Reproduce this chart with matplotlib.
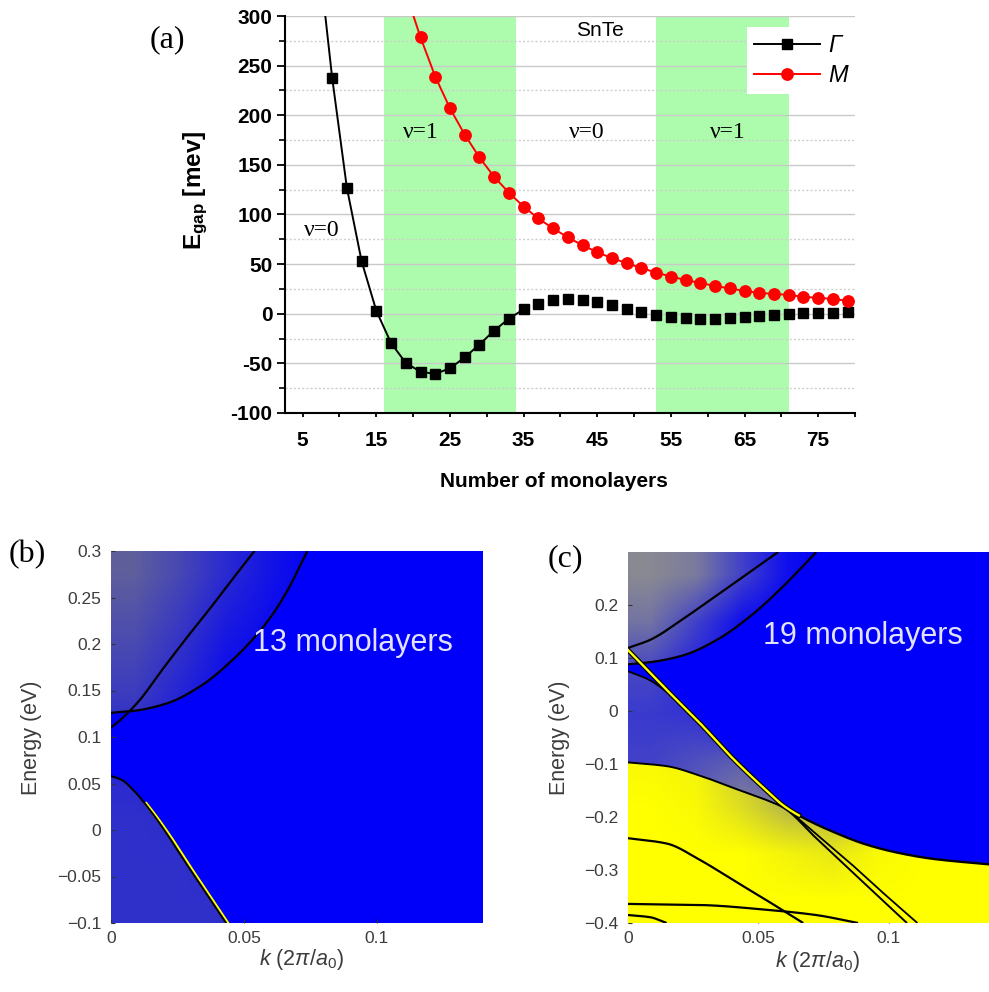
import numpy as np
import matplotlib
matplotlib.use('Agg')
import matplotlib.pyplot as plt
from matplotlib.patches import Polygon
from matplotlib.lines import Line2D
from matplotlib.ticker import FixedLocator

plt.rcParams['font.family'] = ['Liberation Sans', 'DejaVu Sans']
plt.rcParams['mathtext.fontset'] = 'custom'
plt.rcParams['mathtext.rm'] = 'Liberation Sans'
plt.rcParams['mathtext.it'] = 'Liberation Sans:italic'
plt.rcParams['mathtext.bf'] = 'Liberation Sans:bold'

# ---------------- panel (a) data ----------------
layers_gamma = list(range(9, 80, 2))
gap_gamma = [238, 127, 53, 3, -29.5, -49.5, -58.5, -60.5, -55, -44,
             -31, -17, -5, 4.5, 10, 14, 15, 14, 12, 9,
             5, 1.5, -1, -3, -4.5, -5.2, -5.2, -4.7, -3.7, -2.7,
             -1.3, -0.3, 0.3, 0.7, 0.7, 1.3]
layers_m = list(range(21, 80, 2))
gap_m = [278.5, 239, 207, 180.5, 157.5, 138, 122, 108, 96, 86,
         77, 69, 62, 56, 51, 46, 41.5, 37.5, 34, 31,
         28, 25.5, 23, 21, 20, 19, 17, 16, 15, 13]
# connecting-line extensions (leave the frame at the top)
gamma_line_x = [8] + layers_gamma[:14]
gamma_line_y = [305] + gap_gamma[:14]
m_line_x = [20] + layers_m
m_line_y = [301] + gap_m
nu1_bands = [(16, 34), (53, 71)]
a_yticks = [-100, -50, 0, 50, 100, 150, 200, 250, 300]
a_ytick_labels = ['-100', '-50', '0', '50', '100', '150', '200', '250', '300']
a_xticks = [5, 15, 25, 35, 45, 55, 65, 75]
a_xtick_labels = ['5', '15', '25', '35', '45', '55', '65', '75']

# ---------------- panel (b) data (13 monolayers) ----------------
b_cb1_k = [0, 0.0034, 0.0109, 0.0184, 0.0283, 0.0383, 0.0458, 0.054]
b_cb1_E = [0.110, 0.118, 0.140, 0.169, 0.206, 0.242, 0.270, 0.300]
b_cb2_k = [0, 0.0084, 0.0209, 0.0333, 0.0458, 0.0583, 0.0658, 0.0739]
b_cb2_E = [0.126, 0.128, 0.136, 0.154, 0.183, 0.222, 0.2545, 0.300]
b_vb_k = [0, 0.004, 0.0084, 0.0146, 0.0209, 0.0283, 0.0358, 0.0433]
b_vb_E = [0.058, 0.054, 0.043, 0.0215, -0.0036, -0.036, -0.068, -0.1]
b_yticks = [-0.1, -0.05, 0, 0.05, 0.1, 0.15, 0.2, 0.25, 0.3]
b_ytick_labels = ['\u22120.1', '\u22120.05', '0', '0.05', '0.1', '0.15', '0.2', '0.25', '0.3']
bc_xticks = [0, 0.05, 0.1]
bc_xtick_labels = ['0', '0.05', '0.1']
# grey tint of the spectral map (rows: E from top to bottom, cols: k 0..0.14)
b_shade = [[0.80, 0.60, 0.35, 0.15, 0.0, 0.0, 0.0, 0.0],
           [0.70, 0.50, 0.25, 0.10, 0.0, 0.0, 0.0, 0.0],
           [0.60, 0.40, 0.15, 0.05, 0.0, 0.0, 0.0, 0.0],
           [0.50, 0.30, 0.10, 0.00, 0.0, 0.0, 0.0, 0.0],
           [0.35, 0.20, 0.05, 0.00, 0.0, 0.0, 0.0, 0.0],
           [0.35, 0.30, 0.10, 0.00, 0.0, 0.0, 0.0, 0.0],
           [0.40, 0.38, 0.25, 0.00, 0.0, 0.0, 0.0, 0.0],
           [0.40, 0.40, 0.35, 0.00, 0.0, 0.0, 0.0, 0.0],
           [0.40, 0.40, 0.40, 0.00, 0.0, 0.0, 0.0, 0.0]]

# ---------------- panel (c) data (19 monolayers) ----------------
c_cbA_k = [0, 0.0084, 0.0212, 0.034, 0.0467, 0.0576]
c_cbA_E = [0.119, 0.134, 0.174, 0.218, 0.262, 0.300]
c_cbB_k = [0, 0.0084, 0.0212, 0.034, 0.0467, 0.0595, 0.0722]
c_cbB_E = [0.088, 0.092, 0.105, 0.134, 0.178, 0.235, 0.300]
# surface state (yellow) -> becomes the upper edge of the yellow region
c_ss_k = [0, 0.0148, 0.0276, 0.0403, 0.0531, 0.0595, 0.0659, 0.0787, 0.0914, 0.104, 0.117, 0.14]
c_ss_E = [0.115, 0.040, -0.023, -0.090, -0.150, -0.178, -0.198, -0.228, -0.252, -0.268, -0.279, -0.290]
c_merge_k = 0.0595
# top valence band (black), continues as a straight line
c_vb1_k = [0, 0.0148, 0.0276, 0.0403, 0.0531, 0.0595, 0.0722, 0.085, 0.0978, 0.107]
c_vb1_E = [-0.097, -0.104, -0.122, -0.145, -0.168, -0.182, -0.240, -0.299, -0.358, -0.400]
c_d1_k = [0, 0.0084, 0.0212, 0.034, 0.0467, 0.0595, 0.0722, 0.085, 0.0978, 0.111]
c_d1_E = [0.075, 0.058, 0.008, -0.055, -0.118, -0.178, -0.232, -0.286, -0.343, -0.400]
c_v2_k = [0, 0.0148, 0.0276, 0.0403, 0.0531, 0.0672]
c_v2_E = [-0.240, -0.250, -0.281, -0.319, -0.357, -0.400]
c_v3_k = [0, 0.0276, 0.0531, 0.0722, 0.0882]
c_v3_E = [-0.364, -0.366, -0.375, -0.385, -0.400]
c_v4_k = [0, 0.0084, 0.0148]
c_v4_E = [-0.385, -0.389, -0.400]
c_yticks = [-0.4, -0.3, -0.2, -0.1, 0, 0.1, 0.2]
c_ytick_labels = ['\u22120.4', '\u22120.3', '\u22120.2', '\u22120.1', '0', '0.1', '0.2']
c_shade_blue = [[0.95, 0.85, 0.45, 0.10, 0.0, 0.0, 0.0, 0.0],
                [0.80, 0.45, 0.10, 0.00, 0.0, 0.0, 0.0, 0.0],
                [0.50, 0.25, 0.05, 0.00, 0.0, 0.0, 0.0, 0.0],
                [0.40, 0.35, 0.15, 0.00, 0.0, 0.0, 0.0, 0.0],
                [0.45, 0.55, 0.65, 0.50, 0.0, 0.0, 0.0, 0.0],
                [0.50, 0.70, 0.90, 0.80, 0.3, 0.0, 0.0, 0.0],
                [0.50, 0.70, 0.90, 0.80, 0.3, 0.0, 0.0, 0.0],
                [0.50, 0.70, 0.90, 0.80, 0.3, 0.0, 0.0, 0.0]]
c_shade_yellow = [[0.05, 0.10, 0.45, 0.75, 0.70, 0.35, 0.10, 0.0],
                  [0.05, 0.10, 0.45, 0.75, 0.70, 0.35, 0.10, 0.0],
                  [0.05, 0.10, 0.45, 0.75, 0.70, 0.35, 0.10, 0.0],
                  [0.05, 0.10, 0.45, 0.75, 0.70, 0.35, 0.10, 0.0],
                  [0.05, 0.10, 0.45, 0.75, 0.70, 0.35, 0.10, 0.0],
                  [0.00, 0.05, 0.30, 0.65, 0.70, 0.40, 0.10, 0.0],
                  [0.00, 0.00, 0.00, 0.10, 0.20, 0.05, 0.00, 0.0],
                  [0.00, 0.00, 0.00, 0.00, 0.00, 0.00, 0.00, 0.0]]

BLUE = (0.0, 0.0, 0.98)
YELLOW = (1.0, 1.0, 0.0)
GREY_TXT = '#3c3c3c'


def smooth(x, y, n=300):
    """Monotone (PCHIP) interpolation through the read-off points."""
    x = np.asarray(x, float)
    y = np.asarray(y, float)
    if len(x) < 3:
        return x, y
    h = np.diff(x)
    d = np.diff(y) / h
    m = np.zeros_like(y)
    m[0], m[-1] = d[0], d[-1]
    for i in range(1, len(x) - 1):
        if d[i - 1] * d[i] <= 0:
            m[i] = 0.0
        else:
            w1 = 2 * h[i] + h[i - 1]
            w2 = h[i] + 2 * h[i - 1]
            m[i] = (w1 + w2) / (w1 / d[i - 1] + w2 / d[i])
    xs = np.linspace(x[0], x[-1], n)
    idx = np.clip(np.searchsorted(x, xs, side='right') - 1, 0, len(x) - 2)
    hh = h[idx]
    t = (xs - x[idx]) / hh
    h00 = 2 * t ** 3 - 3 * t ** 2 + 1
    h10 = t ** 3 - 2 * t ** 2 + t
    h01 = -2 * t ** 3 + 3 * t ** 2
    h11 = t ** 3 - t ** 2
    ys = h00 * y[idx] + h10 * hh * m[idx] + h01 * y[idx + 1] + h11 * hh * m[idx + 1]
    return xs, ys


def shade(ax, grid, color, extent, clip_xy, z):
    g = np.clip(np.array(grid, float), 0, 1)
    rgba = np.zeros(g.shape + (4,))
    rgba[..., 0], rgba[..., 1], rgba[..., 2] = color
    rgba[..., 3] = g
    im = ax.imshow(rgba, extent=extent, origin='upper', aspect='auto',
                   interpolation='bilinear', zorder=z)
    poly = Polygon(np.column_stack(clip_xy), closed=True, transform=ax.transData)
    im.set_clip_path(poly)
    return im


def band(ax, k, E, lw=1.6, color='k', z=5):
    xs, ys = smooth(k, E)
    ax.plot(xs, ys, color=color, lw=lw, zorder=z, solid_capstyle='butt')
    return xs, ys


fig = plt.figure(figsize=(9.89, 9.92), dpi=100)
W, H = 989.0, 992.0
serif = ['Liberation Serif', 'DejaVu Serif']

# ======================= panel (a) =======================
axa = fig.add_axes([285 / W, 1 - 413 / H, 570 / W, 397 / H])
for lo, hi in nu1_bands:
    axa.axvspan(lo, hi, color='#adfbad', lw=0, zorder=0)
axa.set_axisbelow(True)
axa.set_yticks(a_yticks)
axa.set_yticklabels(a_ytick_labels)
axa.yaxis.set_minor_locator(FixedLocator([-75, -25, 25, 75, 125, 175, 225, 275]))
axa.set_xticks(a_xticks)
axa.set_xticklabels(a_xtick_labels)
axa.xaxis.set_minor_locator(FixedLocator([10, 20, 30, 40, 50, 60, 70, 80]))
axa.yaxis.grid(True, which='major', color='#c9c9c9', lw=1.0)
axa.yaxis.grid(True, which='minor', color='#cfcfcf', lw=1.0, ls=(0, (1.5, 1.5)))
axa.set_xlim(2.6, 80)
axa.set_ylim(-100, 300)
for s in ['top', 'right']:
    axa.spines[s].set_visible(False)
for s in ['left', 'bottom']:
    axa.spines[s].set_linewidth(1.5)
axa.tick_params(axis='y', which='major', direction='out', length=6, width=1.3, labelsize=15, pad=3)
axa.tick_params(axis='y', which='minor', direction='out', length=4, width=1.2)
axa.tick_params(axis='x', which='both', direction='out', length=3, width=1.3, labelsize=15, pad=10)
for lab in axa.get_xticklabels() + axa.get_yticklabels():
    lab.set_fontweight('bold')

axa.plot(gamma_line_x, gamma_line_y, color='k', lw=1.4, zorder=3)
axa.plot(layers_gamma, gap_gamma, ls='none', marker='s', ms=7.8, color='k', zorder=4)
axa.plot(m_line_x, m_line_y, color='red', lw=1.4, zorder=3)
axa.plot(layers_m, gap_m, ls='none', marker='o', ms=8.2, color='red', zorder=4)

handles = [Line2D([], [], color='k', lw=1.4, marker='s', ms=7.8),
           Line2D([], [], color='red', lw=1.4, marker='o', ms=8.2)]
leg = axa.legend(handles, ['\u0393', 'M'], loc='upper right', bbox_to_anchor=(1.0, 0.972),
                 borderaxespad=0, frameon=True, facecolor='white', edgecolor='none',
                 fancybox=False, framealpha=1, handlelength=2.8, handletextpad=0.35,
                 borderpad=0.3, labelspacing=0.3, prop={'style': 'italic', 'size': 17})
leg.set_zorder(10)

fig.text(421 / W, 1 - 132 / H, '\u03bd=1', family=serif, fontsize=17, ha='center', va='center')
fig.text(322 / W, 1 - 230 / H, '\u03bd=0', family=serif, fontsize=17, ha='center', va='center')
fig.text(587 / W, 1 - 132 / H, '\u03bd=0', family=serif, fontsize=17, ha='center', va='center')
fig.text(728 / W, 1 - 132 / H, '\u03bd=1', family=serif, fontsize=17, ha='center', va='center')
fig.text(600 / W, 1 - 31 / H, 'SnTe', fontsize=15, ha='center', va='center')
fig.text(167 / W, 1 - 40 / H, '(a)', family=serif, fontsize=23, ha='center', va='center')
fig.text(196 / W, 1 - 190 / H, r'$\mathbf{E}_{\mathbf{gap}}$ [mev]', fontsize=17.5, fontweight='bold',
         rotation=90, ha='center', va='center')
fig.text(554 / W, 1 - 482 / H, 'Number of monolayers', fontsize=15, fontweight='bold',
         ha='center', va='center')

# ======================= panel (b) =======================
axb = fig.add_axes([111 / W, 1 - 923 / H, 372 / W, 372 / H])
axb.set_facecolor(BLUE)
ext_b = [0, 0.14, -0.1, 0.3]
c2k, c2E = smooth(b_cb2_k, b_cb2_E)
vk, vE = smooth(b_vb_k, b_vb_E)
clip_b = (np.r_[0, c2k[::-1], vk, 0], np.r_[0.3, c2E[::-1], vE, -0.1])
shade(axb, b_shade, (0.47, 0.47, 0.52), ext_b, clip_b, 1)
band(axb, b_cb1_k, b_cb1_E)
band(axb, b_cb2_k, b_cb2_E)
sel = vk > 0.012
axb.plot(vk[sel] + 0.0012, vE[sel] - 0.003, color=YELLOW, lw=2.6, zorder=4)
axb.plot(vk, vE, color='k', lw=1.5, zorder=5)
axb.set_xlim(0, 0.14)
axb.set_ylim(-0.1, 0.3)
axb.set_yticks(b_yticks)
axb.set_yticklabels(b_ytick_labels)
axb.set_xticks(bc_xticks)
axb.set_xticklabels(bc_xtick_labels)
axb.text(353 / W, 1 - 643 / H, '13 monolayers', transform=fig.transFigure, fontsize=22,
         color='#e2e2ff', ha='center', va='center', zorder=20)

# ======================= panel (c) =======================
axc = fig.add_axes([628 / W, 1 - 923 / H, 365 / W, 371 / H])
axc.set_facecolor(BLUE)
ext_c = [0, 0.14, -0.4, 0.3]
Bk, BE = smooth(c_cbB_k, c_cbB_E)
d1k, d1E = smooth(c_d1_k, c_d1_E)
clip_c = (np.r_[0, Bk[::-1], d1k, 0], np.r_[0.3, BE[::-1], d1E, -0.4])
shade(axc, c_shade_blue, (0.57, 0.57, 0.55), ext_c, clip_c, 1)
# yellow (occupied) region: below the top valence band, then below the surface state
v1k, v1E = smooth(c_vb1_k, c_vb1_E)
sk, sE = smooth(c_ss_k, c_ss_E)
kk = np.linspace(0, 0.14, 400)
edge = np.where(kk < c_merge_k, np.interp(kk, v1k, v1E), np.interp(kk, sk, sE))
ypoly = (np.r_[kk, 0.14, 0], np.r_[edge, -0.4, -0.4])
axc.fill(ypoly[0], ypoly[1], color=YELLOW, lw=0, zorder=2)
shade(axc, c_shade_yellow, (0.55, 0.55, 0.45), ext_c, ypoly, 3)
band(axc, c_cbA_k, c_cbA_E)
band(axc, c_cbB_k, c_cbB_E)
band(axc, c_d1_k, c_d1_E, lw=1.3)
band(axc, c_vb1_k, c_vb1_E, lw=1.4)
band(axc, c_v2_k, c_v2_E)
band(axc, c_v3_k, c_v3_E)
band(axc, c_v4_k, c_v4_E)
axc.plot(sk, sE, color='k', lw=1.7, zorder=6)
ssel = sk < 0.066
axc.plot(sk[ssel], sE[ssel], color='k', lw=3.4, zorder=6)
axc.plot(sk[ssel], sE[ssel], color=YELLOW, lw=1.7, zorder=7)
axc.set_xlim(0, 0.14)
axc.set_ylim(-0.4, 0.3)
axc.set_yticks(c_yticks)
axc.set_yticklabels(c_ytick_labels)
axc.set_xticks(bc_xticks)
axc.set_xticklabels(bc_xtick_labels)
axc.text(863 / W, 1 - 636 / H, '19 monolayers', transform=fig.transFigure, fontsize=22,
         color='#e2e2ff', ha='center', va='center', zorder=20)

for ax in (axb, axc):
    for s in ax.spines.values():
        s.set_visible(False)
    ax.tick_params(direction='in', length=3, width=0.8, color='#333333', labelsize=12.5,
                   labelcolor=GREY_TXT, pad=7)
    ax.tick_params(axis='x', pad=6)

fig.text(27 / W, 1 - 555 / H, '(b)', family=serif, fontsize=23, ha='center', va='center')
fig.text(565 / W, 1 - 559 / H, '(c)', family=serif, fontsize=23, ha='center', va='center')
fig.text(32 / W, 1 - 738 / H, 'Energy (eV)', fontsize=15.5, color=GREY_TXT, rotation=90,
         ha='center', va='center')
fig.text(560 / W, 1 - 738 / H, 'Energy (eV)', fontsize=15.5, color=GREY_TXT, rotation=90,
         ha='center', va='center')
fig.text(301 / W, 1 - 960 / H, r'$k$ (2$\pi$/$a_0$)', fontsize=15.5, color=GREY_TXT,
         ha='center', va='center')
fig.text(817 / W, 1 - 962 / H, r'$k$ (2$\pi$/$a_0$)', fontsize=15.5, color=GREY_TXT,
         ha='center', va='center')

fig.savefig('out.png', dpi=100)
